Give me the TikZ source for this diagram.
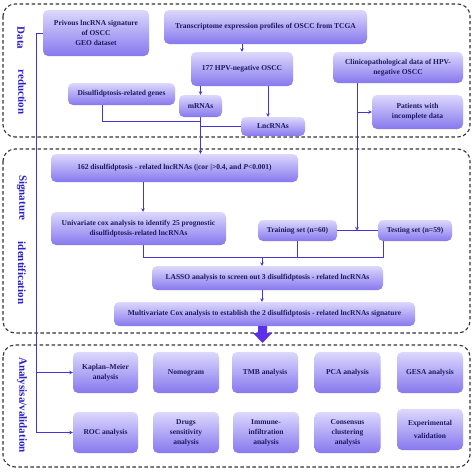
\documentclass[tikz,border=0pt]{standalone}
\usepackage{fontspec}
\setmainfont{Liberation Serif}
\usetikzlibrary{arrows.meta}
\definecolor{boxtop}{HTML}{DCD8FC}
\definecolor{boxbot}{HTML}{8678EE}
\definecolor{boxtxt}{HTML}{1C1A5E}
\definecolor{lbl}{HTML}{2A1ECC}
\definecolor{ln}{HTML}{4536D4}
\definecolor{bigarr}{HTML}{5A30E8}
\definecolor{panel}{HTML}{333333}
\tikzset{
  bx/.style={rounded corners=5pt, top color=boxtop, bottom color=boxbot, draw=none,
    text=boxtxt, font=\fontsize{7.5}{10}\selectfont\bfseries, align=center, inner sep=1pt},
  pnl/.style={draw=panel, line width=1.1pt, dash pattern=on 3.5pt off 2.5pt, rounded corners=12pt},
  sidelbl/.style={rotate=-90, text=lbl, font=\fontsize{11}{13}\selectfont\bfseries},
  cn/.style={draw=ln, line width=0.9pt},
  arr/.style={cn, -{Stealth[length=3.5pt,width=3.5pt]}},
}
\begin{document}
\begin{tikzpicture}[x=1pt,y=-1pt]
\useasboundingbox (0,0) rectangle (474,472);
% panels
\draw[pnl] (3,4) rectangle (470,137);
\draw[pnl] (3,149) rectangle (470,333);
\draw[pnl] (3,345) rectangle (470,467);
% side labels
\node[sidelbl] (l1a) at (21,38) {Data};
\node[sidelbl] (l1b) at (22,92) {reduction};
\node[sidelbl] (l2a) at (22,198) {Signature};
\node[sidelbl] (l2b) at (22,273) {identification};
\node[sidelbl] (l3) at (22,405) {Analysisa/validation};
% boxes panel 1
\node[bx, minimum width=106, minimum height=46] (b1) at (96,33) {Privous lncRNA signature\\ of OSCC\\ GEO dataset};
\node[bx, minimum width=203, minimum height=34] (b2) at (265.5,27) {Transcriptome expression profiles of OSCC from TCGA};
\node[bx, minimum width=102, minimum height=34] (b3) at (242,69) {177 HPV-negative OSCC};
\node[bx, minimum width=107, minimum height=22] (b4) at (121.5,94) {Disulfidptosis-related genes};
\node[bx, minimum width=43, minimum height=22] (b5) at (200.5,106) {mRNAs};
\node[bx, minimum width=64, minimum height=19] (b6) at (273,126.5) {LncRNAs};
\node[bx, minimum width=130, minimum height=31] (b7) at (398,67.5) {Clinicopathological data of HPV-\\negative OSCC};
\node[bx, minimum width=91, minimum height=34] (b8) at (417.5,112) {Patients with\\ incomplete data};
% boxes panel 2
\node[bx, minimum width=247, minimum height=28] (b9) at (174.5,168) {162 disulfidptosis - related lncRNAs (|cor |>0.4, and \textit{P}<0.001)};
\node[bx, minimum width=175, minimum height=33] (b10) at (138.5,228.5) {Univariate cox analysis to identify 25 prognostic\\ disulfidptosis-related lncRNAs};
\node[bx, minimum width=79, minimum height=21] (b11) at (297.5,230.5) {Training set (n=60)};
\node[bx, minimum width=74, minimum height=21] (b12) at (415,230.5) {Testing set (n=59)};
\node[bx, minimum width=231, minimum height=24] (b13) at (267.5,278) {LASSO analysis to screen out 3 disulfidptosis - related lncRNAs};
\node[bx, minimum width=301, minimum height=24] (b14) at (264.5,314) {Multivariate Cox analysis to establish the 2 disulfidptosis - related lncRNAs signature};
% boxes panel 3
\node[bx, minimum width=65, minimum height=41] (km) at (105.5,372.5) {Kaplan--Meier\\ analysis};
\node[bx, minimum width=66, minimum height=41] (nomo) at (186,372.5) {Nomogram};
\node[bx, minimum width=66, minimum height=41] (tmb) at (265,372.5) {TMB analysis};
\node[bx, minimum width=66, minimum height=41] (pca) at (347.5,372.5) {PCA analysis};
\node[bx, minimum width=66, minimum height=41] (gesa) at (430,372.5) {GESA analysis};
\node[bx, minimum width=65, minimum height=41] (roc) at (105.5,432.5) {ROC analysis};
\node[bx, minimum width=66, minimum height=41] (drug) at (186,432.5) {Drugs\\ sensitivity\\ analysis};
\node[bx, minimum width=66, minimum height=41] (imm) at (266,432.5) {Immune-\\infiltration\\ analysis};
\node[bx, minimum width=66, minimum height=41] (cons) at (347.5,432.5) {Consensus\\ clustering\\ analysis};
\node[bx, minimum width=66, minimum height=41] (exp) at (430,429.5) {Experimental\\[3pt] validation};
% coordinates
\coordinate (tr) at (36,0);
\coordinate (x268) at (268,0);
\coordinate (x357) at (357,0);
\coordinate (x143) at (143,0);
\coordinate (x262) at (262,0);
\coordinate (x102) at (102,0);
\coordinate (x383) at (383,0);
\coordinate (y121) at (0,121);
\coordinate (y257) at (0,257);
% connectors
\draw[arr] (b1.west) -| (tr |- roc.west) -- (roc.west);
\draw[arr] (tr |- km.west) -- (km.west);
\draw[arr] (b2.south -| b3.north) -- (b3.north);
\draw[arr] (b3.south -| b5.north) -- (b5.north);
\draw[arr] (b3.south -| x268) -- (b6.north -| x268);
\draw[cn] (b4.south -| x102) |- (b5.south |- y121);
\draw[arr] (b5.south) -- (b5.south |- b9.north);
\draw[cn] (b6.west) -- (b5.south |- b6.west);
\draw[cn] (b11.east) -- (b12.west);
\draw[arr] (b7.south -| x357) -- (x357 |- b11.east);
\draw[arr] (x357 |- b8.west) -- (b8.west);
\draw[arr] (b9.south -| x143) -- (b10.north -| x143);
\draw[cn] (b10.south -| x143) |- (x383 |- y257) -- (b12.south -| x383);
\draw[cn] (b11.south) -- (b11.south |- y257);
\draw[arr] (x262 |- y257) -- (b13.north -| x262);
\draw[arr] (b13.south -| x262) -- (b14.north -| x262);
% big arrow
\fill[bigarr] (258,326) -- (267,326) -- (267,333) -- (272,333) -- (262.5,343) -- (253,333) -- (258,333) -- cycle;
\end{tikzpicture}
\end{document}
